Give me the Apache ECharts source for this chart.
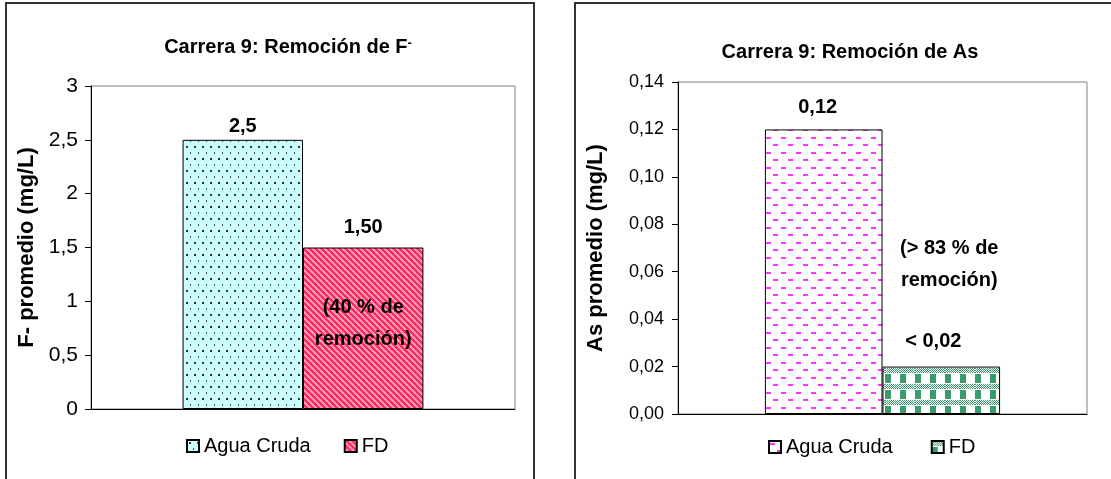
<!DOCTYPE html>
<html>
<head>
<meta charset="utf-8">
<script src="https://cdn.jsdelivr.net/npm/echarts@6/dist/echarts.min.js"></script>
<style>
  html, body { margin: 0; padding: 0; background: #fff; }
  #page { position: relative; width: 1111px; height: 479px; overflow: hidden; }
  .frame { position: absolute; border: 2px solid #333; box-sizing: border-box; }
  .chart { position: absolute; top: 0; height: 479px; }
</style>
</head>
<body>
<div id="page">
  <div class="frame" style="left:5px;top:2px;width:530px;height:520px"></div>
  <div class="frame" style="left:574px;top:2px;width:560px;height:520px"></div>
  <div id="chartF" class="chart" style="left:0;width:560px"></div>
  <div id="chartAs" class="chart" style="left:570px;width:541px"></div>
</div>
<script>
// data
const categories = ['Carrera 9'];
const seriesNames = ['Agua Cruda', 'FD'];

const fluoride = [2.5, 1.5];
const fluorideLabels = ['2,5', '1,50'];
const fluorideNote = ['(40 % de', 'remoción)'];
const fluorideNoteAt = 0.79;
const fluorideAxis = { min: 0, max: 3, interval: 0.5 };

const arsenic = [0.12, 0.02];
const arsenicLabels = ['0,12', '< 0,02'];
const arsenicNote = ['(> 83 % de', 'remoción)'];
const arsenicNoteAt = 0.063;
const arsenicAxis = { min: 0, max: 0.14, interval: 0.02 };

const FONT = '"Liberation Sans", Arial, sans-serif';

// fill patterns like the Excel ones
function makePattern(w, h, draw) {
  const c = document.createElement('canvas');
  c.width = w;
  c.height = h;
  draw(c.getContext('2d'), w, h);
  return { image: c, repeat: 'repeat' };
}

const dots = makePattern(8, 12, (ctx, w, h) => {
  ctx.fillStyle = '#ccffff';
  ctx.fillRect(0, 0, w, h);
  ctx.fillStyle = '#333';
  ctx.fillRect(2, 2, 2, 2);
  ctx.fillStyle = '#555';
  ctx.fillRect(6, 8, 1, 2);
});

const redHatch = makePattern(6, 6, (ctx, w, h) => {
  for (let y = 0; y < h; y++) {
    for (let x = 0; x < w; x++) {
      ctx.fillStyle = (((x - y) % 6) + 6) % 6 < 3 ? '#ff2a58' : '#ff94b8';
      ctx.fillRect(x, y, 1, 1);
    }
  }
});

const pinkDashes = makePattern(15, 15, (ctx, w, h) => {
  ctx.fillStyle = '#fff';
  ctx.fillRect(0, 0, w, h);
  ctx.fillStyle = '#ff33ff';
  ctx.fillRect(1, 2, 5, 2);
  ctx.fillRect(8, 9, 5, 2);
});

const greenCheck = makePattern(15, 16, (ctx, w, h) => {
  ctx.fillStyle = '#fff';
  ctx.fillRect(0, 0, w, h);
  ctx.fillStyle = '#3a9c6a';
  for (let y = 0; y < 5; y++) {
    for (let x = 0; x < w; x++) {
      if ((x + y) % 2 === 0) ctx.fillRect(x, y, 1, 1);
    }
  }
  ctx.fillRect(0, 6, 6, 9);
});

function buildOption(cfg) {
  return {
    animation: false,
    title: {
      text: cfg.title,
      left: cfg.titleX,
      top: cfg.titleY,
      textAlign: 'center',
      padding: 0,
      textStyle: {
        fontFamily: FONT, fontSize: 20, fontWeight: 'bold', color: '#000',
        rich: {
          t: { fontFamily: FONT, fontSize: 20, fontWeight: 'bold', color: '#000' },
          s: { fontFamily: FONT, fontSize: 13, fontWeight: 'bold', color: '#000', verticalAlign: 'top' }
        }
      }
    },
    legend: {
      data: seriesNames,
      left: cfg.legendX,
      top: cfg.legendY,
      padding: 0,
      icon: 'rect',
      itemWidth: 12,
      itemHeight: 12,
      itemGap: cfg.legendGap,
      textStyle: { fontFamily: FONT, fontSize: 20, color: '#000' }
    },
    grid: {
      left: cfg.grid[0], top: cfg.grid[1], width: cfg.grid[2], height: cfg.grid[3],
      show: true, borderColor: '#808080', borderWidth: 1
    },
    xAxis: {
      type: 'category',
      data: categories,
      axisLine: { lineStyle: { color: '#000' } },
      axisTick: { show: false },
      axisLabel: { show: false }
    },
    yAxis: {
      type: 'value',
      min: cfg.axis.min,
      max: cfg.axis.max,
      interval: cfg.axis.interval,
      name: cfg.yName,
      nameLocation: 'middle',
      nameGap: cfg.nameGap,
      nameTextStyle: { fontFamily: FONT, fontSize: 22, fontWeight: 'bold', color: '#000' },
      axisLine: { show: true, lineStyle: { color: '#000' } },
      axisTick: { show: true, length: 6, lineStyle: { color: '#000' } },
      axisLabel: {
        formatter: cfg.tickFormat,
        fontFamily: FONT, fontSize: cfg.tickSize, color: '#000', margin: cfg.tickMargin
      },
      splitLine: { show: false }
    },
    series: seriesNames.map((name, i) => ({
      type: 'bar',
      name: name,
      data: [cfg.values[i]],
      barGap: '0%',
      barCategoryGap: cfg.catGap,
      itemStyle: { color: cfg.patterns[i], borderColor: '#000', borderWidth: 1 },
      emphasis: { disabled: true },
      label: {
        show: true,
        position: 'top',
        distance: cfg.labelDist[i],
        offset: cfg.labelOffset[i],
        formatter: cfg.labels[i],
        fontFamily: FONT, fontSize: 20, fontWeight: 'bold', color: '#000'
      },
      markPoint: i === 1 ? {
        symbol: 'rect',
        symbolSize: 0,
        silent: true,
        label: {
          show: true,
          position: 'inside',
          offset: cfg.noteOffset,
          formatter: cfg.note.join('\n'),
          fontFamily: FONT, fontSize: 20, fontWeight: 'bold', lineHeight: 32, color: '#000'
        },
        data: [{ coord: [categories[0], cfg.noteAt] }]
      } : undefined
    }))
  };
}

const chartF = echarts.init(document.getElementById('chartF'));
chartF.setOption(buildOption({
  title: '{t|Carrera 9: Remoción de F}{s|-}',
  titleX: 288, titleY: 37,
  legendX: 186, legendY: 436, legendGap: 33,
  grid: [91, 86, 424, 323],
  axis: fluorideAxis,
  yName: 'F- promedio (mg/L)',
  nameGap: 51,
  tickFormat: (v) => String(v).replace('.', ','),
  tickSize: 21,
  tickMargin: 13,
  catGap: '43.2%',
  values: fluoride,
  labels: fluorideLabels,
  labelDist: [3, 10],
  labelOffset: [[0, 0], [0, 0]],
  patterns: [dots, redHatch],
  note: fluorideNote,
  noteAt: fluorideNoteAt,
  noteOffset: [0, 0]
}));

const chartAs = echarts.init(document.getElementById('chartAs'));
chartAs.setOption(buildOption({
  title: '{t|Carrera 9: Remoción de As}',
  titleX: 280, titleY: 42,
  legendX: 198, legendY: 437, legendGap: 38,
  grid: [108, 82, 409, 332],
  axis: arsenicAxis,
  yName: 'As promedio (mg/L)',
  nameGap: 71,
  tickFormat: (v) => v.toFixed(2).replace('.', ','),
  tickSize: 18,
  tickMargin: 14,
  catGap: '42.5%',
  values: arsenic,
  labels: arsenicLabels,
  labelDist: [12, 15],
  labelOffset: [[-6, 0], [-8, 0]],
  patterns: [pinkDashes, greenCheck],
  note: arsenicNote,
  noteAt: arsenicNoteAt,
  noteOffset: [8, 0]
}));
</script>
</body>
</html>
